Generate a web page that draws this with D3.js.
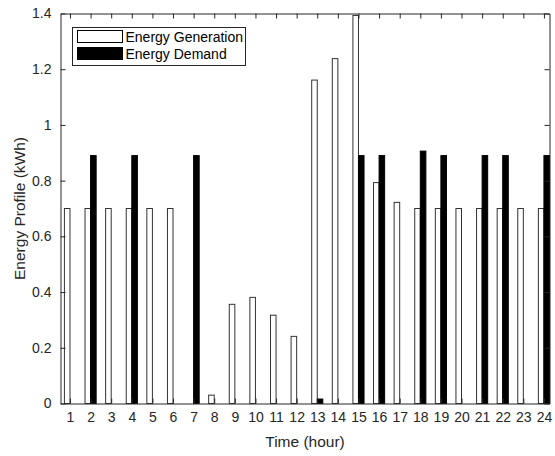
<!DOCTYPE html>
<html>
<head>
<meta charset="utf-8">
<script src="https://cdn.jsdelivr.net/npm/d3@7"></script>
<style>
  body { margin: 0; background: #fff; }
  text { font-family: "Liberation Sans", Arial, sans-serif; fill: #262626; }
</style>
</head>
<body>
<div id="chart"></div>
<script>
const hours = d3.range(1, 25);
const generation = [0.7, 0.7, 0.7, 0.7, 0.7, 0.7, 0, 0.03, 0.356, 0.381, 0.317, 0.241,
    1.161, 1.238, 1.393, 0.793, 0.722, 0.7, 0.7, 0.7, 0.7, 0.7, 0.7, 0.7];
const demand = [0, 0.89, 0, 0.89, 0, 0, 0.89, 0, 0, 0, 0, 0,
    0.016, 0, 0.89, 0.89, 0, 0.906, 0.89, 0, 0.89, 0.89, 0, 0.89];
const yTicks = [0, 0.2, 0.4, 0.6, 0.8, 1, 1.2, 1.4];
const seriesNames = ["Energy Generation", "Energy Demand"];

const width = 555;
const height = 456;
const margin = { top: 13.5, right: 5.5, bottom: 52.5, left: 60.5 };
const innerW = width - margin.left - margin.right;
const innerH = height - margin.top - margin.bottom;

const svg = d3.select("#chart")
    .append("svg")
    .attr("width", width)
    .attr("height", height);

const g = svg.append("g")
    .attr("transform", `translate(${margin.left},${margin.top})`);

// Scales
const x = d3.scaleLinear().domain([0.54, 24.27]).range([0, innerW]);
const y = d3.scaleLinear().domain([0, 1.4]).range([innerH, 0]);

const barW = 0.27;
const data = hours.map((h, i) => ({ hour: h, gen: generation[i], dem: demand[i] }));

// Generation bars (left of tick)
g.selectAll(".gen")
    .data(data)
    .enter()
    .append("rect")
    .attr("class", "gen")
    .attr("x", d => x(d.hour - barW))
    .attr("width", x(barW) - x(0))
    .attr("y", d => y(d.gen))
    .attr("height", d => y(0) - y(d.gen))
    .style("fill", "#fff")
    .style("stroke", "#333")
    .style("stroke-width", 1);

// Demand bars (right of tick)
g.selectAll(".dem")
    .data(data.filter(d => d.dem > 0))
    .enter()
    .append("rect")
    .attr("class", "dem")
    .attr("x", d => x(d.hour))
    .attr("width", x(barW) - x(0))
    .attr("y", d => y(d.dem))
    .attr("height", d => y(0) - y(d.dem))
    .style("fill", "#000")
    .style("stroke", "#000")
    .style("stroke-width", 1);

// Axes, MATLAB style: inward ticks on all four sides
const tickLen = 5;
const fmt = d => String(+d.toFixed(1));

g.append("g")
    .attr("transform", `translate(0,${innerH})`)
    .call(d3.axisBottom(x).tickValues(hours).tickSizeInner(-tickLen).tickSizeOuter(0).tickPadding(9))
    .call(a => a.selectAll("text").style("font-size", "14px"));

g.append("g")
    .call(d3.axisTop(x).tickValues(hours).tickSizeInner(-tickLen).tickSizeOuter(0).tickFormat(""));

g.append("g")
    .call(d3.axisLeft(y).tickValues(yTicks).tickFormat(fmt).tickSizeInner(-tickLen).tickSizeOuter(0).tickPadding(9))
    .call(a => a.selectAll("text").style("font-size", "14px"));

g.append("g")
    .attr("transform", `translate(${innerW},0)`)
    .call(d3.axisRight(y).tickValues(yTicks).tickSizeInner(-tickLen).tickSizeOuter(0).tickFormat(""));

g.selectAll(".domain, .tick line").style("stroke", "#262626");
g.selectAll(".tick text").style("fill", "#262626").style("font-family", "'Liberation Sans', Arial, sans-serif");

// Axis labels
svg.append("text")
    .attr("x", margin.left + innerW / 2)
    .attr("y", 447)
    .style("text-anchor", "middle")
    .style("font-size", "15.5px")
    .text("Time (hour)");

svg.append("text")
    .attr("transform", `translate(25,${margin.top + innerH / 2}) rotate(-90)`)
    .style("text-anchor", "middle")
    .style("font-size", "15.5px")
    .text("Energy Profile (kWh)");

// Legend
const legend = svg.append("g").attr("transform", "translate(72.5,27.5)");
legend.append("rect")
    .attr("width", 173)
    .attr("height", 38)
    .style("fill", "#fff")
    .style("stroke", "#262626")
    .style("stroke-width", 1);

const fills = ["#fff", "#000"];
seriesNames.forEach((name, i) => {
    legend.append("rect")
        .attr("x", 5)
        .attr("y", 3 + i * 17)
        .attr("width", 45)
        .attr("height", 12)
        .style("fill", fills[i])
        .style("stroke", "#000")
        .style("stroke-width", 1);
    legend.append("text")
        .attr("x", 53)
        .attr("y", 14 + i * 17)
        .style("font-size", "14px")
        .style("fill", "#000")
        .text(name);
});
</script>
</body>
</html>
